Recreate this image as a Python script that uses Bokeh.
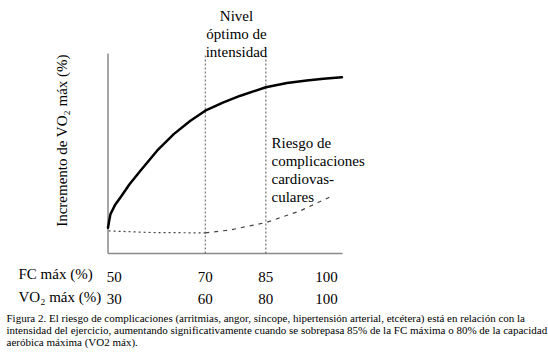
import math
from bokeh.plotting import figure
from bokeh.models import Range1d, Label
from bokeh.core.properties import value
from bokeh.embed import file_html
from bokeh.resources import INLINE

# ---------------- data ----------------
vo2_ticks = [30, 60, 80, 100]                 # VO2 max (%) positions on the x axis
fc_tick_labels = ["50", "70", "85", "100"]    # FC max (%)
vo2_tick_labels = ["30", "60", "80", "100"]   # VO2 max (%)
optimal_zone = [60, 80]                       # limits of the optimal intensity zone (VO2 max %)

# increment of VO2 max (solid curve)
vo2_curve_x = [27.9, 28.3, 28.7, 30.2, 32.0, 35.0, 38.6, 44.1, 49.6, 55.1, 60.0, 66.0, 71.6, 80.0, 87.0, 93.5, 99.0, 105.1]
vo2_curve_y = [12.9, 16.5, 19.6, 24.2, 28.0, 34.6, 41.4, 51.4, 59.7, 66.4, 71.4, 75.6, 78.9, 83.1, 85.2, 86.5, 87.4, 88.1]

# risk of cardiovascular complications (dashed curve)
risk_low_x = [28.1, 41.9, 60.0]
risk_low_y = [11.3, 10.5, 10.3]
risk_high_x = [60.0, 68.3, 80.1, 91.3, 101.2]
risk_high_y = [10.3, 11.8, 15.5, 21.3, 28.3]

caption_lines = [
    "Figura 2. El riesgo de complicaciones (arritmias, angor, síncope, hipertensión arterial, etcétera) está en relación con la",
    "intensidad del ejercicio, aumentando significativamente cuando se sobrepasa 85% de la FC máxima o 80% de la capacidad",
    "aeróbica máxima (VO2 máx).",
]

# ---------------- layout ----------------
W, H = 548, 353
AX_L, AX_R, AX_T, AX_B = 107.5, 342, 53, 253      # pixel box of the drawn axes
X_AT_L, X_AT_R = 27.9, 105.3                        # VO2 % at the left/right end of the x axis
Y_AT_B, Y_AT_T = 0, 100
SERIF = "Liberation Serif"

sx = (X_AT_R - X_AT_L) / (AX_R - AX_L)
sy = (Y_AT_T - Y_AT_B) / (AX_B - AX_T)
x_range = Range1d(X_AT_L - AX_L * sx, X_AT_L + (W - AX_L) * sx)
y_range = Range1d(Y_AT_B - (H - AX_B) * sy, Y_AT_B + AX_B * sy)


def xd(px):
    return X_AT_L + (px - AX_L) * sx


def yd(py):
    return Y_AT_B + (AX_B - py) * sy


p = figure(width=W, height=H, x_range=x_range, y_range=y_range,
           x_axis_type=None, y_axis_type=None, output_backend="svg", toolbar_location=None,
           min_border=0)
p.outline_line_color = None
p.background_fill_color = "white"
p.border_fill_color = "white"
p.grid.visible = False

AXIS_COLOR = "#8a8a8a"

# axes lines
p.segment(x0=[X_AT_L], y0=[Y_AT_B], x1=[X_AT_L], y1=[Y_AT_T], line_color=AXIS_COLOR, line_width=1.5)
p.segment(x0=[X_AT_L], y0=[Y_AT_B], x1=[X_AT_R], y1=[Y_AT_B], line_color=AXIS_COLOR, line_width=1.3)

# optimal zone limits
p.segment(x0=optimal_zone, y0=[Y_AT_B] * 2, x1=optimal_zone, y1=[yd(55)] * 2,
          line_color="#555555", line_width=1, line_dash="2 2")

# curves
p.line(vo2_curve_x, vo2_curve_y, line_color="black", line_width=2.5, line_join="round", line_cap="round")
p.line(risk_low_x, risk_low_y, line_color="#444444", line_width=1.2, line_dash="2 3")
p.line(risk_high_x, risk_high_y, line_color="#444444", line_width=1.2, line_dash="4 5")

# tick labels (two rows)
tick_style = dict(text_font=value(SERIF), text_font_size=value("15px"), text_color="black",
                  text_align="center", text_baseline="alphabetic")
p.text(x=vo2_ticks, y=[yd(276)] * len(vo2_ticks), text=fc_tick_labels, **tick_style)
p.text(x=vo2_ticks, y=[yd(298.5)] * len(vo2_ticks), text=vo2_tick_labels, **tick_style)


def add_text(text, px, py, size="15px", align="left", baseline="alphabetic", angle=0.0):
    p.add_layout(Label(x=xd(px), y=yd(py), text=text, text_align=align,
                       text_baseline=baseline, text_font=SERIF, angle=angle,
                       text_font_size=size, text_color="black"))


add_text("Incremento de VO₂ máx (%)", 61.5, 140, align="center", baseline="middle", angle=math.pi / 2)

for t, by in zip(["Nivel", "óptimo de", "intensidad"], [15, 33, 51]):
    add_text(t, 236, by, align="center")

for t, by in zip(["Riesgo de", "complicaciones", "cardiovas-", "culares"], [142, 160, 178.5, 196.5]):
    add_text(t, 271, by)

add_text("FC máx (%)", 18, 273.5)
add_text("VO₂ máx (%)", 18, 296.5)

for t, by in zip(caption_lines, [317.5, 329.5, 341.5]):
    add_text(t, 6, by, size="11px")

open("out.html", "w").write(file_html(p, INLINE))
